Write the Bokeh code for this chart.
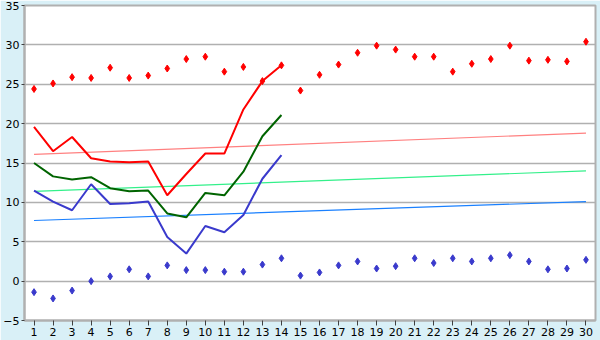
from bokeh.plotting import figure
from bokeh.models import Range1d, FixedTicker
from bokeh.embed import file_html
from bokeh.resources import INLINE

days = list(range(1, 31))
max_pts = [24.4, 25.1, 25.9, 25.8, 27.1, 25.8, 26.1, 27.0, 28.2, 28.5,
           26.6, 27.2, 25.4, 27.4, 24.2, 26.2, 27.5, 29.0, 29.9, 29.4,
           28.5, 28.5, 26.6, 27.6, 28.2, 29.9, 28.0, 28.1, 27.9, 30.4]
min_pts = [-1.4, -2.2, -1.2, 0.0, 0.6, 1.5, 0.6, 2.0, 1.4, 1.4,
           1.2, 1.2, 2.1, 2.9, 0.7, 1.1, 2.0, 2.5, 1.6, 1.9,
           2.9, 2.3, 2.9, 2.5, 2.9, 3.3, 2.5, 1.5, 1.6, 2.7]
line_days = list(range(1, 15))
max_line = [19.6, 16.5, 18.3, 15.6, 15.2, 15.1, 15.2, 10.9, 13.6, 16.2, 16.2, 21.8, 25.4, 27.4]
mean_line = [15.0, 13.3, 12.9, 13.2, 11.8, 11.4, 11.5, 8.6, 8.1, 11.2, 10.9, 13.9, 18.4, 21.1]
min_line = [11.5, 10.1, 9.0, 12.3, 9.8, 9.9, 10.1, 5.6, 3.5, 7.0, 6.2, 8.4, 13.0, 16.0]
trend_days = [1, 30]
trend_max = [16.1, 18.8]
trend_mean = [11.4, 14.0]
trend_min = [7.7, 10.1]
y_ticks = [-5, 0, 5, 10, 15, 20, 25, 30, 35]

p = figure(width=600, height=340, output_backend="svg", toolbar_location=None,
           x_range=Range1d(0.5, 30.5), y_range=Range1d(-5, 35),
           min_border_left=20, min_border_right=5, min_border_top=5, min_border_bottom=20)
p.border_fill_color = "#d9f0f7"
p.background_fill_color = "white"
p.outline_line_color = "#b0b0b0"
p.outline_line_width = 2

p.xgrid.visible = False
p.ygrid.grid_line_color = "#b0b0b0"
p.ygrid.grid_line_width = 1.5
p.ygrid.ticker = FixedTicker(ticks=y_ticks)

for ax in (p.xaxis[0], p.yaxis[0]):
    ax.axis_line_color = "#b0b0b0"
    ax.axis_line_width = 2
    ax.major_tick_line_color = "#404040"
    ax.minor_tick_line_color = None
    ax.major_tick_in = 0
    ax.major_label_text_font = "DejaVu Sans"
    ax.major_label_text_font_size = "11px"
    ax.major_label_text_color = "black"
    ax.major_label_standoff = 2

p.xaxis.ticker = FixedTicker(ticks=days)
p.xaxis.major_tick_out = 5
p.yaxis.ticker = FixedTicker(ticks=y_ticks)
p.yaxis.major_tick_out = 3

p.line(trend_days, trend_max, color="#ff8080", line_width=1.2)
p.line(trend_days, trend_mean, color="#33f08a", line_width=1.2)
p.line(trend_days, trend_min, color="#1a80ff", line_width=1.2)

p.line(line_days, max_line, color="#ff0000", line_width=2)
p.line(line_days, mean_line, color="#006400", line_width=2)
p.line(line_days, min_line, color="#3a3acc", line_width=2)

p.scatter(days, max_pts, marker="diamond", size=7, color="#ff0000")
p.scatter(days, min_pts, marker="diamond", size=7, color="#3a3acc")

open("out.html", "w").write(file_html(p, INLINE))
